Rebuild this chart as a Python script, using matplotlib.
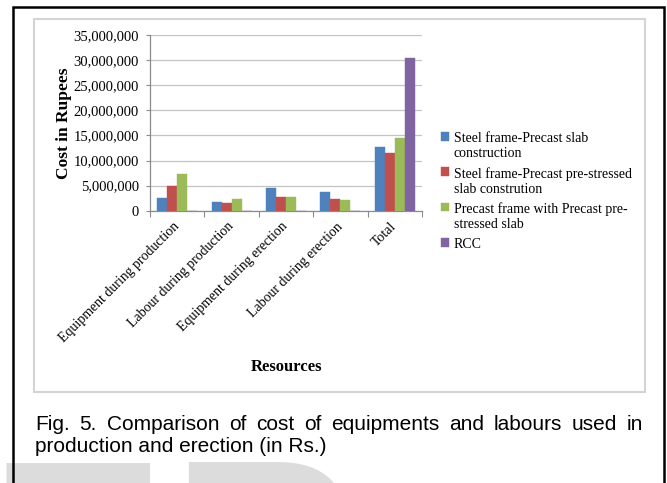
import numpy as np
import matplotlib
matplotlib.use("Agg")
import matplotlib.pyplot as plt
from matplotlib.patches import Rectangle
from matplotlib.ticker import StrMethodFormatter, FixedLocator


categories = [
    "Equipment during production",
    "Labour during production",
    "Equipment during erection",
    "Labour during erection",
    "Total",
]
series_names = [
    "Steel frame-Precast slab\nconstruction",
    "Steel frame-Precast pre-stressed\nslab constrution",
    "Precast frame with Precast pre-\nstressed slab",
    "RCC",
]
steel_precast = [2600000, 1700000, 4600000, 3800000, 12700000]
steel_prestressed = [4900000, 1500000, 2800000, 2300000, 11400000]
precast_prestressed = [7400000, 2300000, 2800000, 2200000, 14500000]
rcc = [0, 0, 0, 0, 30500000]

colors = ["#4F81BD", "#C0504D", "#9BBB59", "#8064A2"]
y_ticks = [0, 5000000, 10000000, 15000000, 20000000, 25000000, 30000000, 35000000]

caption_1 = "Fig. 5. Comparison of cost of equipments and labours used in"
caption_2 = "production and erection (in Rs.)"

W, H = 667, 483
SERIF = ["Liberation Serif", "DejaVu Serif"]
SANS = ["Liberation Sans", "DejaVu Sans"]


def fx(px):
    return px / W


def fy(py):
    return 1 - py / H


fig = plt.figure(figsize=(W / 100, H / 100), dpi=100)
fig.patch.set_facecolor("white")

# watermark tops showing at the bottom of the page
fig.text(fx(-16), fy(652), "ER", fontsize=198, color="#dcdcdc",
         family=SANS, ha="left", va="baseline", zorder=0)

# outer black frame and inner chart frame
fig.patches.append(Rectangle((fx(13), fy(520)), fx(664) - fx(13), fy(7) - fy(520),
                             transform=fig.transFigure, fill=False,
                             edgecolor="black", linewidth=1.8, zorder=5))
fig.patches.append(Rectangle((fx(34), fy(392)), fx(645) - fx(34), fy(19) - fy(392),
                             transform=fig.transFigure, fill=False,
                             edgecolor="#d4d4d4", linewidth=1.5, zorder=1))

ax = fig.add_axes([fx(150), fy(210.7), fx(422) - fx(150), fy(35) - fy(210.7)])
ax.set_facecolor("none")

x = np.arange(len(categories))
w = 0.184
all_series = [steel_precast, steel_prestressed, precast_prestressed, rcc]
handles = []
for i, (vals, name, c) in enumerate(zip(all_series, series_names, colors)):
    b = ax.bar(x + (i - 1.5) * w, vals, w, color=c, label=name, zorder=3,
               edgecolor=c, linewidth=0.3)
    handles.append(b)

ax.set_xlim(-0.5, len(categories) - 0.5)
ax.set_ylim(0, 35000000)
ax.set_yticks(y_ticks)
ax.yaxis.set_major_formatter(StrMethodFormatter("{x:,.0f}"))
ax.grid(axis="y", color="#c4c4c4", linewidth=0.9, zorder=0)

for side in ["top", "right"]:
    ax.spines[side].set_visible(False)
for side in ["left", "bottom"]:
    ax.spines[side].set_color("#8c8c8c")
    ax.spines[side].set_linewidth(0.9)

ax.tick_params(axis="y", length=3, width=0.8, color="#8c8c8c", pad=5,
               labelsize=10.5)
for t in ax.get_yticklabels():
    t.set_fontfamily(SERIF)

ax.set_xticks(x)
ax.set_xticklabels(categories, rotation=45, ha="right", va="center",
                   rotation_mode="anchor", fontsize=10, family=SERIF)
ax.tick_params(axis="x", length=0, pad=10)
ax.xaxis.set_minor_locator(FixedLocator(np.arange(-0.5, len(categories), 1.0)))
ax.tick_params(axis="x", which="minor", length=4, width=0.8, color="#8c8c8c")

fig.text(fx(64), fy(123), "Cost in Rupees", rotation=90, ha="center",
         va="center", fontsize=12.5, fontweight="bold", family=SERIF)
fig.text(fx(287), fy(367), "Resources", ha="center", va="center",
         fontsize=12, fontweight="bold", family=SERIF)

leg = fig.legend(handles=handles, labels=series_names, loc="upper left",
                 bbox_to_anchor=(fx(441), fy(132)), frameon=False,
                 prop={"family": SERIF, "size": 10}, handlelength=0.6,
                 handleheight=0.6, handletextpad=0.3, labelspacing=0.5,
                 borderpad=0, borderaxespad=0)
# put the colour squares next to the first line of each entry
for col in leg._legend_handle_box.get_children():
    for item in col.get_children():
        item.align = "top"

# caption, first line justified across the frame
renderer = fig.canvas.get_renderer()
words = caption_1.split(" ")
objs = [fig.text(0, fy(430), wd, fontsize=15, family=SANS, va="baseline")
        for wd in words]
widths = [o.get_window_extent(renderer).width for o in objs]
left, right = 35, 643
gap = (right - left - sum(widths)) / (len(words) - 1)
pos = left
for o, wd in zip(objs, widths):
    o.set_x(fx(pos))
    pos += wd + gap

fig.text(fx(35), fy(452), caption_2, fontsize=15, family=SANS, va="baseline")

fig.savefig("out.png", dpi=100)
